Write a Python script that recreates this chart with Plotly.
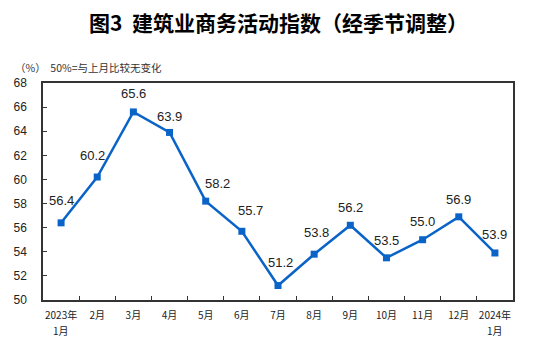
import plotly.graph_objects as go

months = ["2023年1月", "2月", "3月", "4月", "5月", "6月", "7月", "8月", "9月",
          "10月", "11月", "12月", "2024年1月"]
tick_top = ["2023年", "2月", "3月", "4月", "5月", "6月", "7月", "8月", "9月",
            "10月", "11月", "12月", "2024年"]
tick_second = ["1月", "", "", "", "", "", "", "", "", "", "", "", "1月"]
values = [56.4, 60.2, 65.6, 63.9, 58.2, 55.7, 51.2, 53.8, 56.2, 53.5, 55.0, 56.9, 53.9]
y_ticks = [50, 52, 54, 56, 58, 60, 62, 64, 66, 68]

# label offsets (pixels) to mimic the hand-placed labels
label_dx = [0, -5, 0, 0, 12, 9, 2, 2, 0, 0, 0, 0, 0]
label_dy = [22, 22, 18, 16, 18, 21, 23, 22, 18, 17, 18, 17, 18]

LINE = "#0a64c8"
FONT = "Liberation Sans, Arial, Noto Sans CJK SC"
CJK = "Noto Sans CJK SC"

fig = go.Figure()
fig.add_trace(go.Scatter(
    x=months, y=values, mode="lines+markers",
    line=dict(color=LINE, width=2.5),
    marker=dict(symbol="square", size=7, color=LINE),
    hoverinfo="skip", cliponaxis=False,
))

for m, v, dx, dy in zip(months, values, label_dx, label_dy):
    fig.add_annotation(x=m, y=v, text=f"{v:.1f}", showarrow=False,
                       xshift=dx, yshift=dy,
                       font=dict(family=FONT, size=13, color="#222"))

# second line of the two-line month labels
for m, t in zip(months, tick_second):
    if t:
        fig.add_annotation(x=m, yref="paper", y=0, text=t, showarrow=False,
                           yanchor="middle", yshift=-30,
                           font=dict(family=CJK, size=10, color="#222"))

fig.add_annotation(xref="paper", yref="paper", x=0.5, y=1, yanchor="middle",
                   text="<b>图3  建筑业商务活动指数（经季节调整）</b>", showarrow=False,
                   xshift=0, yshift=61,
                   font=dict(family=CJK, size=21, color="#000"))
fig.add_annotation(xref="paper", yref="paper", x=0, y=1, xanchor="left",
                   yanchor="middle",
                   text="（%）  50%=与上月比较无变化", showarrow=False,
                   xshift=-30, yshift=16,
                   font=dict(family=CJK, size=10.5, color="#333"))

fig.update_layout(
    width=553, height=343,
    margin=dict(l=43, r=40, t=83, b=43),
    paper_bgcolor="white", plot_bgcolor="white",
    showlegend=False,
    font=dict(family=FONT, color="#222"),
)
fig.update_xaxes(
    type="category", range=[-0.5, 12.5], tickson="boundaries",
    tickvals=months, ticktext=tick_top,
    ticks="inside", ticklen=4,
    tickcolor="#333", showline=True, mirror=True, linecolor="#333", linewidth=1.5,
    showgrid=False, tickfont=dict(family=CJK, size=10, color="#222"),
    tickangle=0, ticklabelstandoff=5,
)
fig.update_yaxes(
    range=[50, 68], tickvals=y_ticks, ticks="inside", ticklen=4,
    tickcolor="#333", showline=True, mirror=True, linecolor="#333", linewidth=1.5,
    showgrid=False, zeroline=False, ticklabelstandoff=12,
    tickfont=dict(family=FONT, size=12, color="#222"),
)

fig.write_html("out.html")
